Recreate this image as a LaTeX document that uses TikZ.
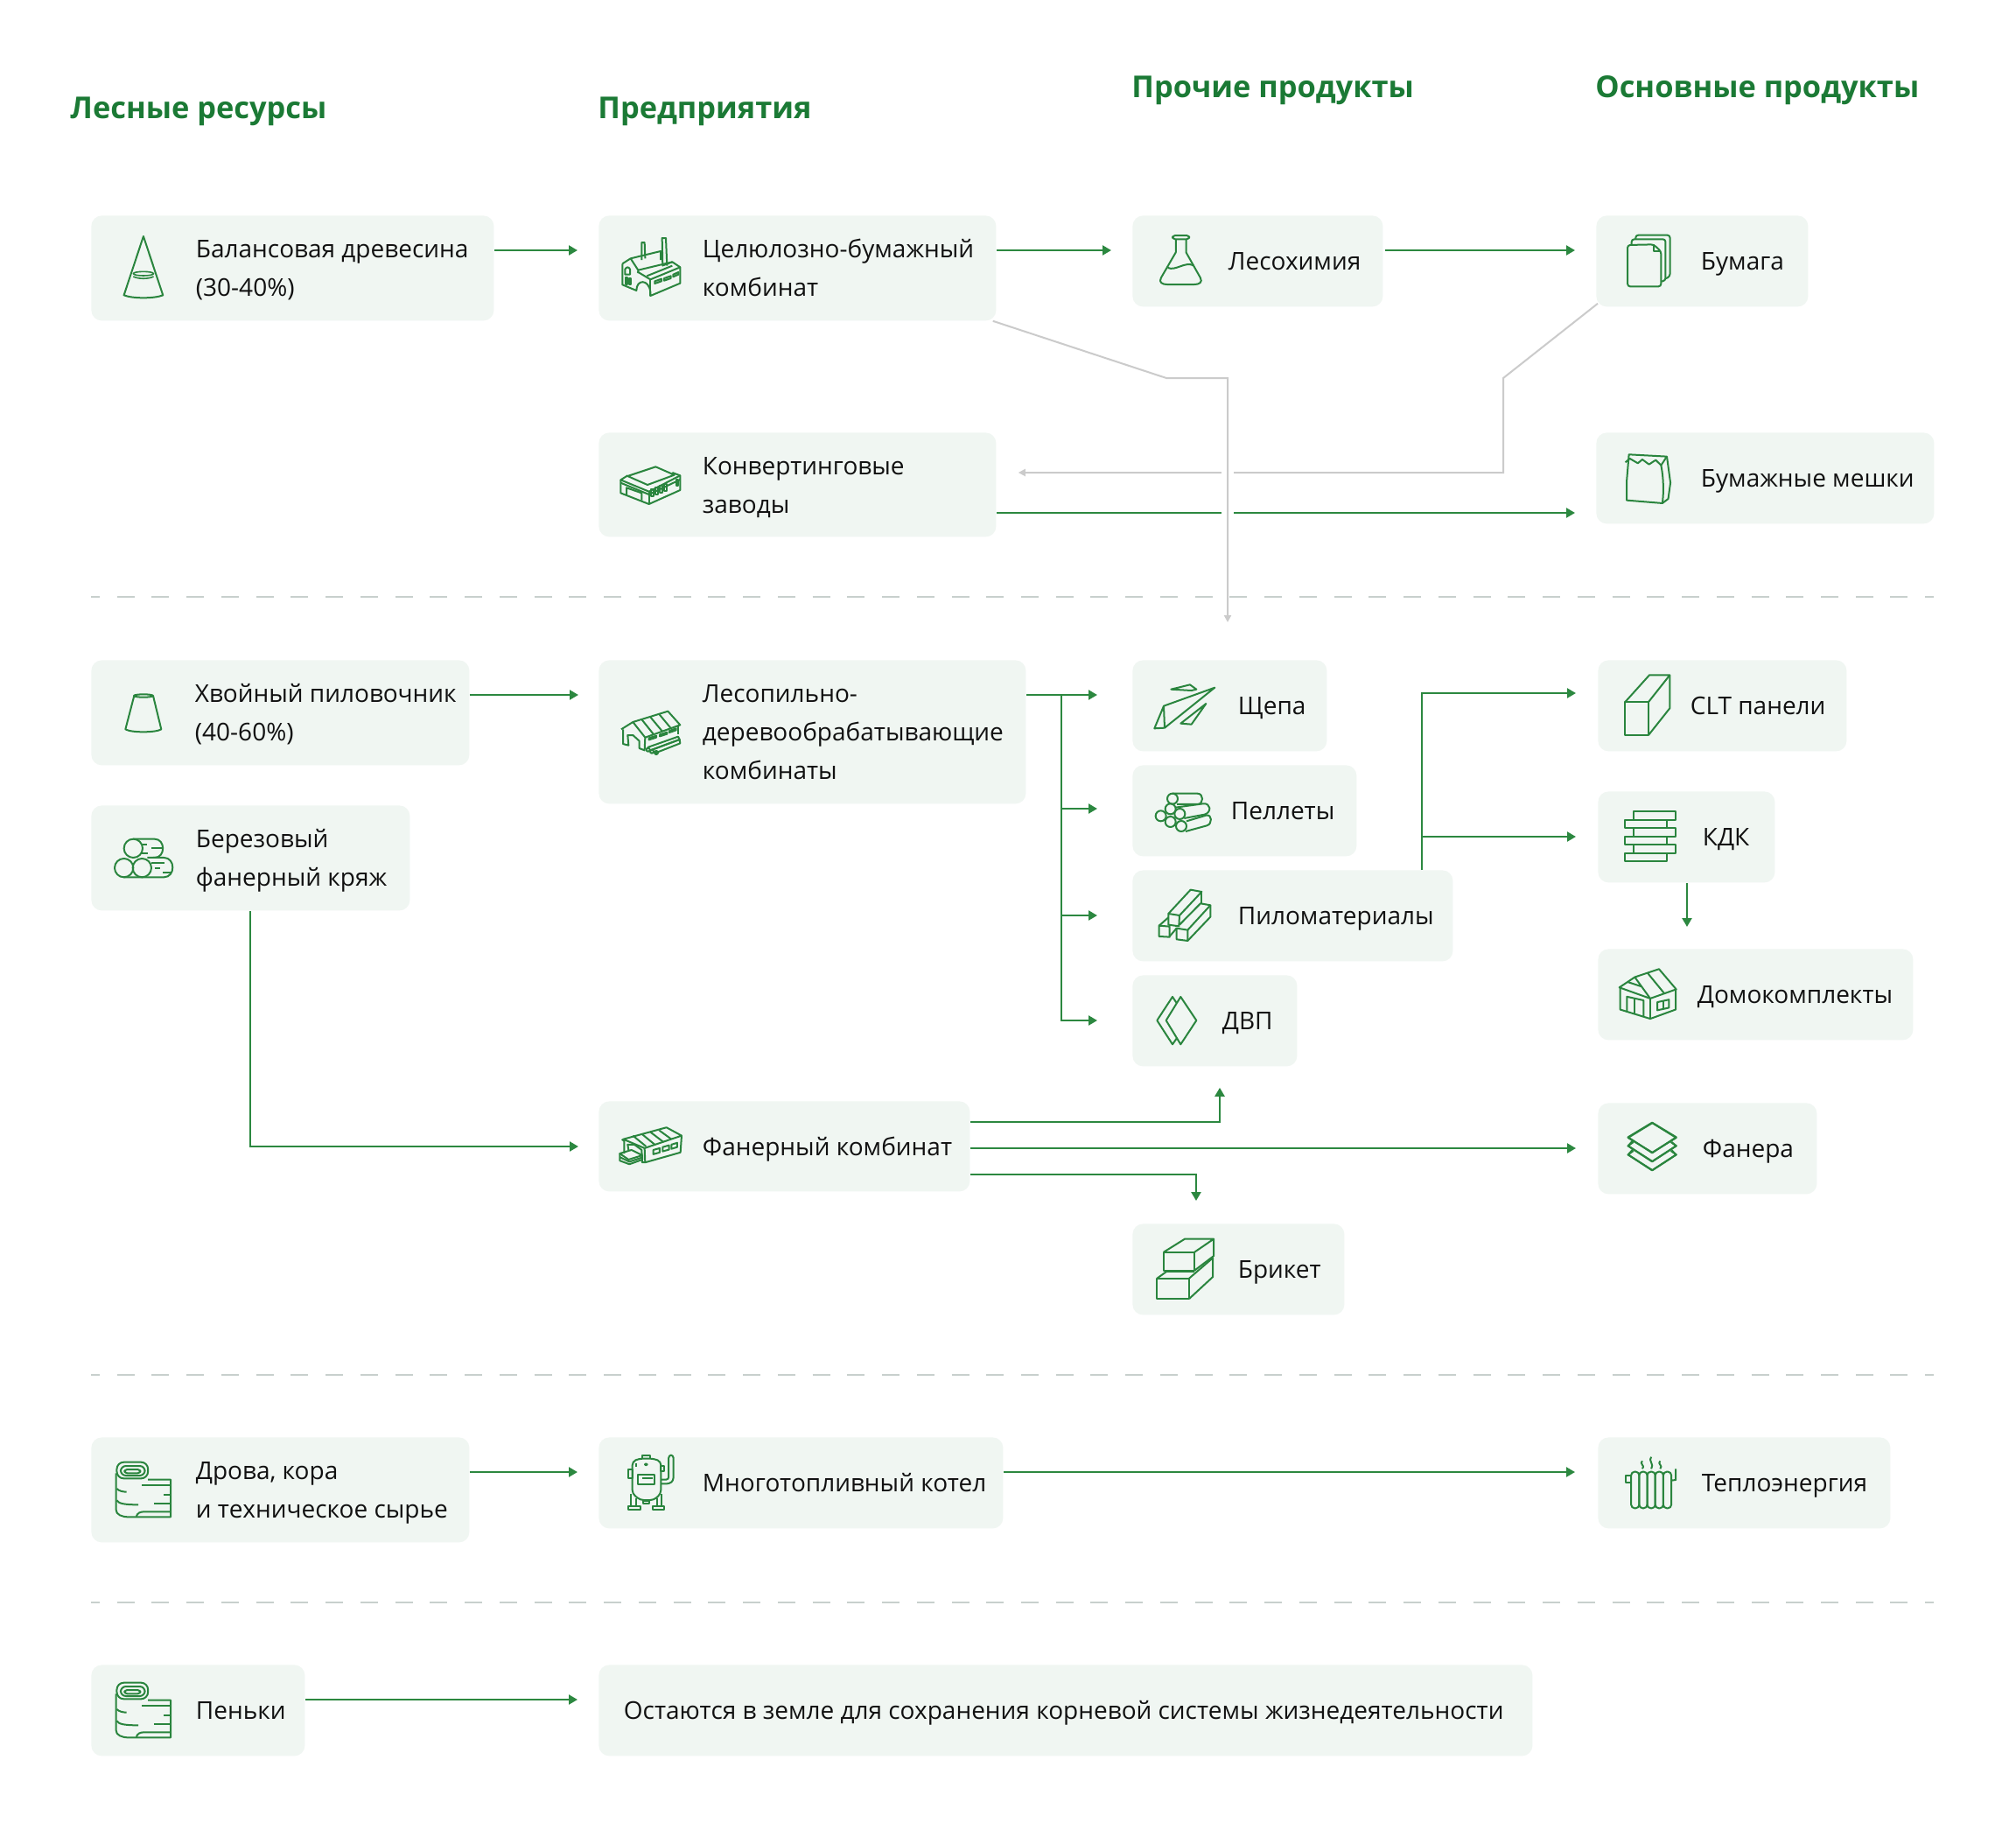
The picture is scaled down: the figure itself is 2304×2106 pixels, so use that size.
\documentclass[tikz,border=0pt]{standalone}
\usepackage{fontspec}
\setmainfont{Open Sans}
\usetikzlibrary{arrows.meta}
\definecolor{boxbg}{HTML}{F0F6F2}
\definecolor{grn}{HTML}{2C8840}
\definecolor{icg}{HTML}{2A853E}
\definecolor{head}{HTML}{1B7A35}
\definecolor{gry}{HTML}{CBCBCB}
\definecolor{dsh}{HTML}{C8D0CD}
\definecolor{ink}{HTML}{111111}
\tikzset{
  box/.style={fill=boxbg,rounded corners=6pt,inner sep=0pt,anchor=north west},
  lbl/.style={anchor=base west,inner sep=0pt,text=ink,font=\fontsize{14}{22}\selectfont},
  hdr/.style={anchor=base west,inner sep=0pt,text=head,font=\fontsize{17.2}{20}\selectfont\bfseries},
  arr/.style={draw=grn,line width=1.15pt,-{Triangle[length=5pt,width=5.5pt]}},
  garr/.style={draw=gry,line width=1pt,-{Triangle[length=4pt,width=4pt]}},
  sep/.style={draw=dsh,line width=1.1pt,dash pattern=on 10pt off 9.87pt,dash phase=5pt},
  zm/.style n args={4}{shift={(#1,#2)},xscale=#3,yscale=#4,color=icg,line width=1pt,line join=round}
}
\newcommand\mybox[5]{\node[box,minimum width={(#4-#2)*0.5pt},minimum height={(#5-#3)*0.5pt}] (#1) at (#2,#3) {};}
\newcommand\lab[4]{\node[lbl] (#1-t) at ({#2-1.5},#3) {#4};}
\newcommand\twol[2]{\vtop{\baselineskip=22pt\hbox{#1}\hbox{#2}}}
\newcommand\thrl[3]{\vtop{\baselineskip=22pt\hbox{#1}\hbox{#2}\hbox{#3}}}
\newcommand\rollicon[2]{%
\begin{scope}[zm={#1}{#2}{0.4464}{0.3333}]
\draw[rounded corners=4pt] (75,152) rectangle (155,208);
\draw[rounded corners=3pt] (85,165) rectangle (147,198);
\draw[rounded corners=1.5pt] (95,177) rectangle (135,190);
\draw (155,212)--(213,212)--(213,340)--(105,340) .. controls (88,340) and (73,332) .. (73,315)--(73,190);
\draw (140,230)--(213,230) (195,264)--(213,264) (170,295)--(213,295);
\draw (75,243) .. controls (80,250) and (90,254) .. (100,254);
\draw (75,283) .. controls (80,293) and (90,298) .. (130,298);
\draw (125,338) .. controls (128,326) and (135,322) .. (145,322)--(213,322);
\end{scope}}
\begin{document}
\begin{tikzpicture}[x=0.5pt,y=-0.5pt]
\useasboundingbox (0,0) rectangle (2304,2106);
\fill[white] (0,0) rectangle (2304,2106);
% headers
\node[hdr] (h1) at (80,135) {Лесные ресурсы};
\node[hdr] (h2) at (683,135) {Предприятия};
\node[hdr] (h3) at (1293,111) {Прочие продукты};
\node[hdr] (h4) at (1823,111) {Основные продукты};
% separators
\draw[sep] (104,682)--(2210,682);
\draw[sep] (104,1571)--(2210,1571);
\draw[sep] (104,1831)--(2210,1831);
% boxes
\mybox{balans}{104}{246}{564}{366}
\mybox{cell}{684}{246}{1138}{366}
\mybox{chem}{1294}{246}{1580}{350}
\mybox{paper}{1824}{246}{2066}{350}
\mybox{conv}{684}{494}{1138}{613}
\mybox{bags}{1824}{494}{2210}{598}
\mybox{hvoy}{104}{754}{536}{874}
\mybox{bereza}{104}{920}{468}{1040}
\mybox{lesop}{684}{754}{1172}{918}
\mybox{shch}{1294}{754}{1516}{858}
\mybox{pell}{1294}{874}{1550}{978}
\mybox{pilo}{1294}{994}{1660}{1098}
\mybox{dvp}{1294}{1114}{1482}{1218}
\mybox{clt}{1826}{754}{2110}{858}
\mybox{kdk}{1826}{904}{2028}{1008}
\mybox{dom}{1826}{1084}{2186}{1188}
\mybox{faner}{684}{1258}{1108}{1361}
\mybox{fanera}{1826}{1260}{2076}{1364}
\mybox{brik}{1294}{1398}{1536}{1502}
\mybox{drova}{104}{1642}{536}{1762}
\mybox{kotel}{684}{1642}{1146}{1746}
\mybox{teplo}{1826}{1642}{2160}{1746}
\mybox{penki}{104}{1902}{348}{2006}
\mybox{ost}{684}{1902}{1751}{2006}
% labels
\lab{balans}{225}{294}{\twol{Балансовая древесина}{(30-40\%)}}
\lab{cell}{804}{294}{\twol{Целюлозно-бумажный}{комбинат}}
\lab{chem}{1405}{308}{Лесохимия}
\lab{paper}{1945}{308}{Бумага}
\lab{conv}{804}{542}{\twol{Конвертинговые}{заводы}}
\lab{bags}{1945}{556}{Бумажные мешки}
\lab{hvoy}{224}{802}{\twol{Хвойный пиловочник}{(40-60\%)}}
\lab{bereza}{225}{968}{\twol{Березовый}{фанерный кряж}}
\lab{lesop}{804}{802}{\thrl{Лесопильно-}{деревообрабатывающие}{комбинаты}}
\lab{shch}{1416}{816}{Щепа}
\lab{pell}{1408}{936}{Пеллеты}
\lab{pilo}{1416}{1056}{Пиломатериалы}
\lab{dvp}{1398}{1176}{ДВП}
\lab{clt}{1933}{816}{CLT панели}
\lab{kdk}{1947}{966}{КДК}
\lab{dom}{1941}{1146}{Домокомплекты}
\lab{faner}{804}{1320}{Фанерный комбинат}
\lab{fanera}{1947}{1322}{Фанера}
\lab{brik}{1416}{1460}{Брикет}
\lab{drova}{225}{1690}{\twol{Дрова, кора}{и техническое сырье}}
\lab{kotel}{804}{1704}{Многотопливный котел}
\lab{teplo}{1946}{1704}{Теплоэнергия}
\lab{penki}{225}{1964}{Пеньки}
\lab{ost}{714}{1964}{Остаются в земле для сохранения корневой системы жизнедеятельности}
% green connectors
\draw[arr,shorten >=12pt] (balans.east |- 0,286)--(cell.west |- 0,286);
\draw[arr,shorten >=12pt] (cell.east |- 0,286)--(chem.west |- 0,286);
\draw[arr,shorten >=12pt,shorten <=1pt] (chem.east |- 0,286)--(paper.west |- 0,286);
\draw[arr,shorten >=12pt] (conv.east |- 0,586)--(bags.west |- 0,586);
\draw[arr,shorten >=11.5pt] (hvoy.east |- 0,794)--(lesop.west |- 0,794);
\draw[arr,shorten >=11.5pt] (bereza.south -| 286,0) |- (faner.west |- 0,1310);
\coordinate (trunk) at (1212.7,794);
\draw[arr,shorten >=20pt] (lesop.east |- trunk)--(shch.west |- trunk);
\draw[arr,shorten >=20pt] (trunk) |- (pell.west |- 0,924);
\draw[arr,shorten >=20pt] (trunk) |- (pilo.west |- 0,1046);
\draw[arr,shorten >=20pt] (trunk) |- (dvp.west |- 0,1166);
\coordinate (pout) at (1625,994);
\draw[arr,shorten >=12.5pt] (pilo.north -| pout) |- (clt.west |- 0,792);
\draw[arr,shorten >=12.5pt] (pilo.north -| pout) |- (kdk.west |- 0,956);
\draw[arr,shorten >=12.5pt] (kdk.south -| 1928,0)--(dom.north -| 1928,0);
\draw[arr,shorten >=12pt] (faner.east |- 0,1282) -| (dvp.south -| 1394,0);
\draw[arr,shorten >=12.5pt] (faner.east |- 0,1312)--(fanera.west |- 0,1312);
\draw[arr,shorten >=13pt] (faner.east |- 0,1342) -| (brik.north -| 1367,0);
\draw[arr,shorten >=12pt] (drova.east |- 0,1682)--(kotel.west |- 0,1682);
\draw[arr,shorten >=13pt] (kotel.east |- 0,1682)--(teplo.west |- 0,1682);
\draw[arr,shorten >=12pt] (penki.east |- 0,1942)--(ost.west |- 0,1942);
% grey connectors
\draw[garr,shorten >=12.5pt] ([xshift=1pt,yshift=2pt]paper.south west)--(1718,432)--(1718,540)--(conv.east |- 0,540);
\draw[white,line width=7pt] (1403,525)--(1403,600);
\draw[garr,shorten >=21.5pt] ([xshift=-2pt]cell.south east)--(1333,432)--(1403,432)--(shch.north -| 1403,0);
% icons
\begin{scope}[zm={80}{220}{0.4464}{0.3333}]
\draw (188,150)--(138,352) .. controls (160,364) and (216,364) .. (238,352)--cycle;
\draw[line width=0.8pt] (188,278) ellipse [x radius=26,y radius=7];
\draw[line width=0.8pt] (162,288) .. controls (175,297) and (201,297) .. (214,288);
\end{scope}
\begin{scope}[zm={700}{262}{0.3333}{0.3333}]
\draw (100,105)--(100,45)--(110,45)--(112,100);
\draw (172,125)--(170,30)--(183,30)--(187,125);
\draw (34,118)--(34,190)--(82,210) .. controls (82,170) and (125,170) .. (130,215)--(130,228)--(232,185)--(232,130)--(205,112)--(170,125);
\draw (34,118)--(62,100)--(88,140)--(88,150);
\draw (62,100)--(165,75)--(165,105);
\draw (85,145)--(130,172)--(232,130);
\draw (130,172)--(130,228);
\draw (88,140)--(205,112);
\draw (118,160)--(205,125);
\draw (145,178)--(168,170)--(168,178)--(145,186)--cycle;
\draw (177,168)--(200,160)--(200,168)--(177,176)--cycle;
\draw (208,155)--(226,147)--(226,155)--(208,163)--cycle;
\draw (43,155)--(43,137) .. controls (48,128) and (56,128) .. (60,137)--(60,155)--cycle;
\draw (45,165) rectangle (50,188);
\draw (56,167) rectangle (62,190);
\end{scope}
\begin{scope}[zm={700}{520}{0.3333}{0.3333}]
\draw (28,85)--(28,130)--(125,168)--(232,120)--(232,70)--(205,60);
\draw (52,72)--(148,40)--(212,68)--(120,102)--cycle;
\draw (52,70)--(28,85)--(125,125)--(232,70);
\draw (28,95)--(125,135)--(232,84);
\draw (125,125)--(125,168);
\draw (48,135)--(48,112)--(100,130)--(100,155);
\foreach \q in {133,148,163,178} {\draw (\q,{118-(\q-133)*0.45}) rectangle (\q+7,{142-(\q-133)*0.45});}
\draw (218,85) rectangle (225,105);
\end{scope}
\begin{scope}[zm={700}{800}{0.3333}{0.3333}]
\draw (30,100)--(70,75)--(190,38)--(232,85)--(112,128)--(70,75);
\draw (36,100)--(36,150)--(55,155)--(52,120)--(70,120)--(92,140)--(92,165)--(110,172)--(112,128);
\draw (100,66)--(140,116) (130,58)--(170,106) (160,48)--(200,96);
\draw (225,88)--(225,118);
\draw (125,130)--(150,122)--(150,128)--(125,136)--cycle;
\draw (162,118)--(187,110)--(187,116)--(162,124)--cycle;
\draw (195,105)--(218,97)--(218,103)--(195,111)--cycle;
\draw (120,162)--(225,125)--(230,135)--(130,172);
\draw (130,172)--(230,135)--(232,148)--(145,182);
\draw (122,170) circle [radius=6];
\draw (135,176) circle [radius=6];
\draw (150,180) circle [radius=6];
\end{scope}
\begin{scope}[zm={680}{720}{0.3333}{0.4082}]
\draw (97,1425)--(245,1392)--(297,1415)--(170,1450)--(97,1425);
\draw (92,1425)--(100,1430)--(100,1465);
\draw (115,1455)--(112,1440)--(135,1440)--(160,1455)--(162,1490)--(172,1490)--(293,1462)--(297,1415);
\draw (170,1450)--(172,1490);
\draw (130,1415)--(175,1445) (160,1410)--(205,1440) (190,1405)--(235,1433) (220,1400)--(262,1425);
\draw (200,1455)--(222,1450)--(222,1462)--(200,1467)--cycle;
\draw (232,1447)--(254,1442)--(254,1454)--(232,1459)--cycle;
\draw (262,1440)--(282,1435)--(282,1447)--(262,1452)--cycle;
\draw (85,1465)--(125,1455)--(162,1470)--(115,1482)--cycle;
\draw (85,1465)--(85,1485)--(118,1495)--(162,1482)--(162,1470);
\draw (85,1475)--(118,1488)--(162,1476);
\end{scope}
\begin{scope}[zm={100}{740}{0.3333}{0.3333}]
\draw (160,165)--(130,280) .. controls (150,292) and (233,292) .. (253,280)--(225,165);
\draw (192,165) ellipse [x radius=33,y radius=5];
\draw (157,688) circle [radius=32];
\draw (125,755) circle [radius=32];
\draw (187,755) circle [radius=32];
\draw (157,656)--(230,656) .. controls (268,656) and (268,720) .. (230,720)--(205,720);
\draw (125,787)--(262,787) .. controls (302,787) and (302,720) .. (262,720)--(225,720);
\draw (190,675)--(205,675) (220,688)--(260,688) (187,705)--(207,705) (220,738)--(265,738) (230,755)--(250,755) (258,770)--(285,770);
\end{scope}
\begin{scope}[zm={1270}{720}{0.3333}{0.3333}]
\draw (148,337)--(180,260)--(355,197)--(183,335)--cycle;
\draw (180,260)--(183,335);
\draw (205,203)--(270,187)--(292,203)--(275,207)--cycle;
\draw (238,320)--(325,252)--(275,323)--cycle;
\draw (210,578) circle [radius=18];
\draw (170,637) circle [radius=18];
\draw (203,613) circle [radius=18];
\draw (235,630) circle [radius=18];
\draw (203,657) circle [radius=18];
\draw (240,672) circle [radius=18];
\draw (210,560)--(295,560) .. controls (318,560) and (318,597) .. (295,597)--(225,597);
\draw (220,608)--(315,595) .. controls (342,592) and (345,625) .. (320,632)--(250,645);
\draw (258,655)--(325,635) .. controls (347,630) and (347,665) .. (328,670)--(255,690);
\draw (196,972)--(234,978)--(232,1015)--(196,1010)--cycle;
\draw (196,972)--(272,890)--(310,897)--(234,978);
\draw (310,897)--(310,937);
\draw (224,1022)--(262,1028)--(262,1065)--(224,1060)--cycle;
\draw (234,1010)--(306,937)--(340,943)--(262,1028);
\draw (340,943)--(340,983)--(262,1065);
\draw (164,1013)--(200,1016)--(200,1052)--(164,1050)--cycle;
\draw (164,1013)--(196,985);
\draw (200,1050)--(224,1022);
\draw (238,1257)--(292,1338)--(238,1420)--(188,1338)--cycle;
\draw (224,1278)--(210,1257)--(157,1338)--(210,1420)--(224,1400);
\end{scope}
\begin{scope}[zm={1800}{720}{0.3333}{0.4209}]
\draw (172,195)--(252,195)--(252,285)--(172,285)--cycle;
\draw (172,195)--(255,122)--(325,122)--(252,195);
\draw (325,122)--(325,212)--(252,285);
\draw (200,492) rectangle (345,515);
\draw (172,515) rectangle (316,538);
\draw (200,538) rectangle (345,560);
\draw (172,560) rectangle (316,583);
\draw (200,583) rectangle (345,606);
\draw (172,606) rectangle (316,628);
\draw (152,970)--(205,942)--(288,920)--(347,975)--(258,1000)--cycle;
\draw (205,942)--(258,1000) (248,930)--(305,985) (180,955)--(230,968);
\draw (155,972)--(155,1030)--(258,1055)--(345,1030)--(345,975);
\draw (258,1000)--(258,1055);
\draw (178,1036)--(178,995)--(235,1005)--(235,1050);
\draw (205,1000)--(205,1042);
\draw (282,1010)--(322,1003)--(322,1025)--(282,1032)--cycle;
\draw (302,1006)--(302,1028);
\draw (265,1338)--(347,1378)--(265,1418)--(182,1378)--cycle;
\draw (198,1386)--(182,1400)--(265,1442)--(347,1400)--(332,1390);
\draw (198,1410)--(182,1424)--(265,1466)--(347,1424)--(332,1412);
\end{scope}
\begin{scope}[zm={1280}{230}{0.5102}{0.3333}]
\draw[rounded corners=1.5pt] (118,117) rectangle (155,130);
\draw (125,130)--(125,175)--(92,262) .. controls (86,278) and (95,285) .. (105,285)--(167,285) .. controls (177,285) and (186,278) .. (180,262)--(148,175)--(148,130);
\draw (107,228) .. controls (125,240) and (145,205) .. (165,220);
\draw[rounded corners=1.5pt] (1137,150)--(1195,148)--(1212,172)--(1212,292)--(1137,292)--cycle;
\draw (1195,148)--(1195,172)--(1212,172);
\draw[rounded corners=1.5pt] (1146,148)--(1146,130)--(1222,130)--(1222,272)--(1212,275);
\draw[rounded corners=1.5pt] (1155,130)--(1155,116)--(1232,116)--(1232,258)--(1222,265);
\draw (1140,868)--(1225,875)--(1233,965)--(1228,1020)--(1215,1035)--(1135,1025)--(1135,960)--cycle;
\draw (1132,895)--(1142,882)--(1160,898)--(1170,885)--(1185,902)--(1200,887)--(1212,905)--(1225,875);
\draw (1212,905) .. controls (1218,950) and (1218,1000) .. (1215,1035);
\end{scope}
\begin{scope}[zm={1280}{1260}{0.5102}{0.3333}]
\draw (98,512)--(167,512)--(167,575)--(98,575)--cycle;
\draw (98,512)--(145,467)--(210,467)--(167,512);
\draw (210,467)--(210,525)--(167,575);
\draw (83,602)--(155,602)--(155,672)--(83,672)--cycle;
\draw (83,602)--(105,578);
\draw (155,602)--(208,532)--(208,597)--(155,672);
\draw (103,578)--(167,578);
\draw (1138,118)--(1192,68)--(1246,118)--(1192,172)--cycle;
\draw (1150,135)--(1138,148)--(1192,202)--(1246,148)--(1234,135);
\draw (1150,165)--(1138,178)--(1192,232)--(1246,178)--(1234,165);
\foreach \q in {0,1,2,3,4} {\draw[rounded corners=2pt] ({1145+\q*18},1265) rectangle ({1163+\q*18},1390);}
\draw (1145,1278)--(1132,1278)--(1132,1302)--(1145,1302);
\draw (1245,1255)--(1245,1293)--(1235,1295);
\draw (1170,1228) .. controls (1162,1238) and (1178,1244) .. (1170,1255);
\draw (1190,1214) .. controls (1182,1226) and (1198,1240) .. (1190,1255);
\draw (1210,1228) .. controls (1202,1238) and (1218,1244) .. (1210,1255);
\end{scope}
\rollicon{100}{1620}
\rollicon{100}{1872}
\begin{scope}[zm={100}{1620}{0.4464}{0.3333}]
\draw[rounded corners=2pt] (1395,150)--(1395,260)--(1415,282)--(1450,282)--(1468,260)--(1468,150)--(1450,140)--(1412,140)--cycle;
\draw (1420,140)--(1420,128)--(1440,128)--(1440,140);
\draw (1385,178) rectangle (1395,208);
\draw (1468,165) rectangle (1476,182);
\draw (1408,195) rectangle (1452,228);
\draw (1420,208)--(1448,208);
\draw (1405,155)--(1405,168);
\draw (1430,160) circle [radius=3];
\draw (1385,302) rectangle (1415,316);
\draw (1447,302) rectangle (1476,316);
\draw (1392,262)--(1392,302) (1405,275)--(1405,302) (1458,275)--(1458,302) (1470,262)--(1470,302);
\draw (1423,284) rectangle (1438,295);
\draw[rounded corners=1.5pt] (1468,212)--(1488,212)--(1488,128)--(1500,128)--(1500,215)--(1490,226)--(1468,226);
\end{scope}
\end{tikzpicture}
\end{document}
